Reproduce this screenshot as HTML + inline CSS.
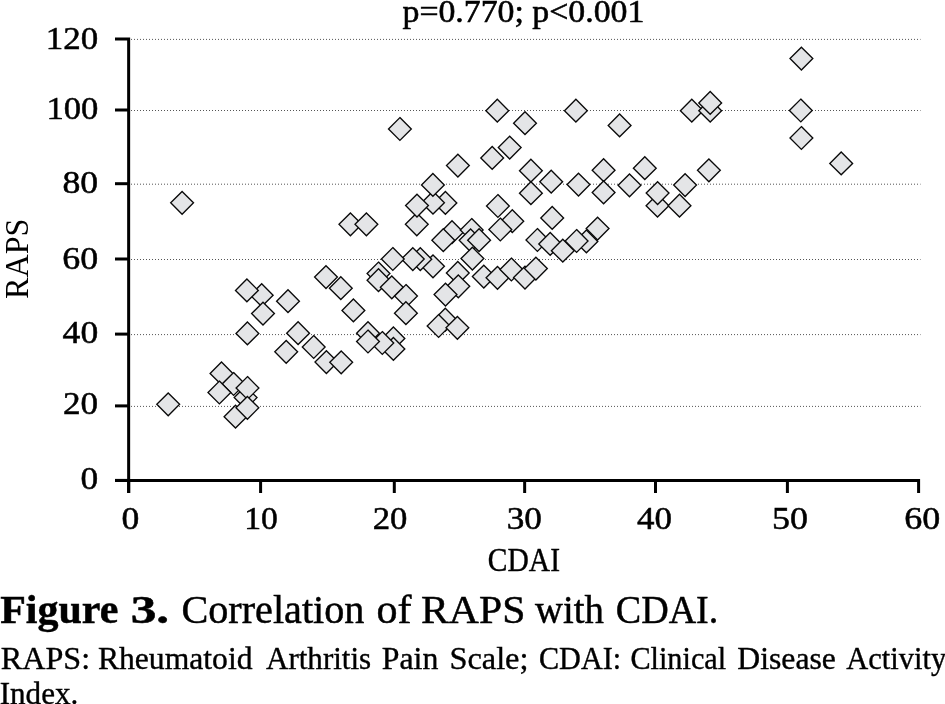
<!DOCTYPE html><html><head><meta charset="utf-8"><style>html,body{margin:0;padding:0;background:#fff;overflow:hidden;}svg{display:block;will-change:transform;}text{font-family:"Liberation Serif",serif;fill:#000;}</style></head><body>
<svg width="945" height="704" viewBox="0 0 945 704">
<line x1="131" y1="39.4" x2="920.5" y2="39.4" stroke="#555" stroke-width="1" stroke-dasharray="1 2"/>
<line x1="131" y1="110.5" x2="920.5" y2="110.5" stroke="#555" stroke-width="1" stroke-dasharray="1 2"/>
<line x1="131" y1="184.2" x2="920.5" y2="184.2" stroke="#555" stroke-width="1" stroke-dasharray="1 2"/>
<line x1="131" y1="259.5" x2="920.5" y2="259.5" stroke="#555" stroke-width="1" stroke-dasharray="1 2"/>
<line x1="131" y1="334.6" x2="920.5" y2="334.6" stroke="#555" stroke-width="1" stroke-dasharray="1 2"/>
<line x1="131" y1="406.4" x2="920.5" y2="406.4" stroke="#555" stroke-width="1" stroke-dasharray="1 2"/>
<path d="M168.2 392.9L179.6 404.3L168.2 415.7L156.8 404.3Z" fill="#e4e5e7" stroke="#0a0a0a" stroke-width="1.35"/>
<path d="M182.1 191.4L193.5 202.8L182.1 214.2L170.7 202.8Z" fill="#e4e5e7" stroke="#0a0a0a" stroke-width="1.35"/>
<path d="M221.5 362.0L232.9 373.4L221.5 384.8L210.1 373.4Z" fill="#e4e5e7" stroke="#0a0a0a" stroke-width="1.35"/>
<path d="M233.6 372.6L245.0 384.0L233.6 395.4L222.2 384.0Z" fill="#e4e5e7" stroke="#0a0a0a" stroke-width="1.35"/>
<path d="M219.4 381.1L230.8 392.5L219.4 403.9L208.0 392.5Z" fill="#e4e5e7" stroke="#0a0a0a" stroke-width="1.35"/>
<path d="M245.6 386.2L257.0 397.6L245.6 409.0L234.2 397.6Z" fill="#e4e5e7" stroke="#0a0a0a" stroke-width="1.35"/>
<path d="M247.5 376.6L258.9 388.0L247.5 399.4L236.1 388.0Z" fill="#e4e5e7" stroke="#0a0a0a" stroke-width="1.35"/>
<path d="M235.5 405.3L246.9 416.7L235.5 428.1L224.1 416.7Z" fill="#e4e5e7" stroke="#0a0a0a" stroke-width="1.35"/>
<path d="M247.4 396.4L258.8 407.8L247.4 419.2L236.0 407.8Z" fill="#e4e5e7" stroke="#0a0a0a" stroke-width="1.35"/>
<path d="M261.7 283.8L273.1 295.2L261.7 306.6L250.3 295.2Z" fill="#e4e5e7" stroke="#0a0a0a" stroke-width="1.35"/>
<path d="M246.9 279.0L258.3 290.4L246.9 301.8L235.5 290.4Z" fill="#e4e5e7" stroke="#0a0a0a" stroke-width="1.35"/>
<path d="M263.0 302.2L274.4 313.6L263.0 325.0L251.6 313.6Z" fill="#e4e5e7" stroke="#0a0a0a" stroke-width="1.35"/>
<path d="M288.0 289.8L299.4 301.2L288.0 312.6L276.6 301.2Z" fill="#e4e5e7" stroke="#0a0a0a" stroke-width="1.35"/>
<path d="M247.4 322.0L258.8 333.4L247.4 344.8L236.0 333.4Z" fill="#e4e5e7" stroke="#0a0a0a" stroke-width="1.35"/>
<path d="M298.1 321.8L309.5 333.2L298.1 344.6L286.7 333.2Z" fill="#e4e5e7" stroke="#0a0a0a" stroke-width="1.35"/>
<path d="M286.2 340.4L297.6 351.8L286.2 363.2L274.8 351.8Z" fill="#e4e5e7" stroke="#0a0a0a" stroke-width="1.35"/>
<path d="M313.7 335.6L325.1 347.0L313.7 358.4L302.3 347.0Z" fill="#e4e5e7" stroke="#0a0a0a" stroke-width="1.35"/>
<path d="M326.4 350.7L337.8 362.1L326.4 373.5L315.0 362.1Z" fill="#e4e5e7" stroke="#0a0a0a" stroke-width="1.35"/>
<path d="M341.2 350.9L352.6 362.3L341.2 373.7L329.8 362.3Z" fill="#e4e5e7" stroke="#0a0a0a" stroke-width="1.35"/>
<path d="M326.0 265.7L337.4 277.1L326.0 288.5L314.6 277.1Z" fill="#e4e5e7" stroke="#0a0a0a" stroke-width="1.35"/>
<path d="M340.8 276.8L352.2 288.2L340.8 299.6L329.4 288.2Z" fill="#e4e5e7" stroke="#0a0a0a" stroke-width="1.35"/>
<path d="M353.4 299.0L364.8 310.4L353.4 321.8L342.0 310.4Z" fill="#e4e5e7" stroke="#0a0a0a" stroke-width="1.35"/>
<path d="M350.4 212.9L361.8 224.3L350.4 235.7L339.0 224.3Z" fill="#e4e5e7" stroke="#0a0a0a" stroke-width="1.35"/>
<path d="M366.4 212.9L377.8 224.3L366.4 235.7L355.0 224.3Z" fill="#e4e5e7" stroke="#0a0a0a" stroke-width="1.35"/>
<path d="M433.0 254.9L444.4 266.3L433.0 277.7L421.6 266.3Z" fill="#e4e5e7" stroke="#0a0a0a" stroke-width="1.35"/>
<path d="M420.3 247.8L431.7 259.2L420.3 270.6L408.9 259.2Z" fill="#e4e5e7" stroke="#0a0a0a" stroke-width="1.35"/>
<path d="M412.8 247.7L424.2 259.1L412.8 270.5L401.4 259.1Z" fill="#e4e5e7" stroke="#0a0a0a" stroke-width="1.35"/>
<path d="M392.8 247.6L404.2 259.0L392.8 270.4L381.4 259.0Z" fill="#e4e5e7" stroke="#0a0a0a" stroke-width="1.35"/>
<path d="M378.5 262.1L389.9 273.5L378.5 284.9L367.1 273.5Z" fill="#e4e5e7" stroke="#0a0a0a" stroke-width="1.35"/>
<path d="M378.5 268.8L389.9 280.2L378.5 291.6L367.1 280.2Z" fill="#e4e5e7" stroke="#0a0a0a" stroke-width="1.35"/>
<path d="M391.8 275.9L403.2 287.3L391.8 298.7L380.4 287.3Z" fill="#e4e5e7" stroke="#0a0a0a" stroke-width="1.35"/>
<path d="M406.0 284.6L417.4 296.0L406.0 307.4L394.6 296.0Z" fill="#e4e5e7" stroke="#0a0a0a" stroke-width="1.35"/>
<path d="M405.9 301.8L417.3 313.2L405.9 324.6L394.5 313.2Z" fill="#e4e5e7" stroke="#0a0a0a" stroke-width="1.35"/>
<path d="M368.0 321.8L379.4 333.2L368.0 344.6L356.6 333.2Z" fill="#e4e5e7" stroke="#0a0a0a" stroke-width="1.35"/>
<path d="M393.4 327.0L404.8 338.4L393.4 349.8L382.0 338.4Z" fill="#e4e5e7" stroke="#0a0a0a" stroke-width="1.35"/>
<path d="M393.4 337.5L404.8 348.9L393.4 360.3L382.0 348.9Z" fill="#e4e5e7" stroke="#0a0a0a" stroke-width="1.35"/>
<path d="M382.3 331.6L393.7 343.0L382.3 354.4L370.9 343.0Z" fill="#e4e5e7" stroke="#0a0a0a" stroke-width="1.35"/>
<path d="M368.0 330.1L379.4 341.5L368.0 352.9L356.6 341.5Z" fill="#e4e5e7" stroke="#0a0a0a" stroke-width="1.35"/>
<path d="M399.9 117.6L411.3 129.0L399.9 140.4L388.5 129.0Z" fill="#e4e5e7" stroke="#0a0a0a" stroke-width="1.35"/>
<path d="M445.4 191.5L456.8 202.9L445.4 214.3L434.0 202.9Z" fill="#e4e5e7" stroke="#0a0a0a" stroke-width="1.35"/>
<path d="M433.0 191.3L444.4 202.7L433.0 214.1L421.6 202.7Z" fill="#e4e5e7" stroke="#0a0a0a" stroke-width="1.35"/>
<path d="M416.8 212.9L428.2 224.3L416.8 235.7L405.4 224.3Z" fill="#e4e5e7" stroke="#0a0a0a" stroke-width="1.35"/>
<path d="M417.0 194.2L428.4 205.6L417.0 217.0L405.6 205.6Z" fill="#e4e5e7" stroke="#0a0a0a" stroke-width="1.35"/>
<path d="M432.9 173.5L444.3 184.9L432.9 196.3L421.5 184.9Z" fill="#e4e5e7" stroke="#0a0a0a" stroke-width="1.35"/>
<path d="M457.9 154.2L469.3 165.6L457.9 177.0L446.5 165.6Z" fill="#e4e5e7" stroke="#0a0a0a" stroke-width="1.35"/>
<path d="M492.2 146.5L503.6 157.9L492.2 169.3L480.8 157.9Z" fill="#e4e5e7" stroke="#0a0a0a" stroke-width="1.35"/>
<path d="M497.3 99.3L508.7 110.7L497.3 122.1L485.9 110.7Z" fill="#e4e5e7" stroke="#0a0a0a" stroke-width="1.35"/>
<path d="M452.0 220.8L463.4 232.2L452.0 243.6L440.6 232.2Z" fill="#e4e5e7" stroke="#0a0a0a" stroke-width="1.35"/>
<path d="M443.3 228.8L454.7 240.2L443.3 251.6L431.9 240.2Z" fill="#e4e5e7" stroke="#0a0a0a" stroke-width="1.35"/>
<path d="M471.7 218.6L483.1 230.0L471.7 241.4L460.3 230.0Z" fill="#e4e5e7" stroke="#0a0a0a" stroke-width="1.35"/>
<path d="M470.6 228.9L482.0 240.3L470.6 251.7L459.2 240.3Z" fill="#e4e5e7" stroke="#0a0a0a" stroke-width="1.35"/>
<path d="M479.1 228.8L490.5 240.2L479.1 251.6L467.7 240.2Z" fill="#e4e5e7" stroke="#0a0a0a" stroke-width="1.35"/>
<path d="M472.4 247.2L483.8 258.6L472.4 270.0L461.0 258.6Z" fill="#e4e5e7" stroke="#0a0a0a" stroke-width="1.35"/>
<path d="M457.8 261.5L469.2 272.9L457.8 284.3L446.4 272.9Z" fill="#e4e5e7" stroke="#0a0a0a" stroke-width="1.35"/>
<path d="M458.3 274.9L469.7 286.3L458.3 297.7L446.9 286.3Z" fill="#e4e5e7" stroke="#0a0a0a" stroke-width="1.35"/>
<path d="M445.5 283.2L456.9 294.6L445.5 306.0L434.1 294.6Z" fill="#e4e5e7" stroke="#0a0a0a" stroke-width="1.35"/>
<path d="M445.3 308.3L456.7 319.7L445.3 331.1L433.9 319.7Z" fill="#e4e5e7" stroke="#0a0a0a" stroke-width="1.35"/>
<path d="M438.6 314.6L450.0 326.0L438.6 337.4L427.2 326.0Z" fill="#e4e5e7" stroke="#0a0a0a" stroke-width="1.35"/>
<path d="M457.4 316.4L468.8 327.8L457.4 339.2L446.0 327.8Z" fill="#e4e5e7" stroke="#0a0a0a" stroke-width="1.35"/>
<path d="M483.8 265.2L495.2 276.6L483.8 288.0L472.4 276.6Z" fill="#e4e5e7" stroke="#0a0a0a" stroke-width="1.35"/>
<path d="M497.5 266.4L508.9 277.8L497.5 289.2L486.1 277.8Z" fill="#e4e5e7" stroke="#0a0a0a" stroke-width="1.35"/>
<path d="M511.4 258.1L522.8 269.5L511.4 280.9L500.0 269.5Z" fill="#e4e5e7" stroke="#0a0a0a" stroke-width="1.35"/>
<path d="M525.0 266.2L536.4 277.6L525.0 289.0L513.6 277.6Z" fill="#e4e5e7" stroke="#0a0a0a" stroke-width="1.35"/>
<path d="M535.9 257.2L547.3 268.6L535.9 280.0L524.5 268.6Z" fill="#e4e5e7" stroke="#0a0a0a" stroke-width="1.35"/>
<path d="M497.9 194.6L509.3 206.0L497.9 217.4L486.5 206.0Z" fill="#e4e5e7" stroke="#0a0a0a" stroke-width="1.35"/>
<path d="M512.3 209.8L523.7 221.2L512.3 232.6L500.9 221.2Z" fill="#e4e5e7" stroke="#0a0a0a" stroke-width="1.35"/>
<path d="M500.3 218.1L511.7 229.5L500.3 240.9L488.9 229.5Z" fill="#e4e5e7" stroke="#0a0a0a" stroke-width="1.35"/>
<path d="M509.7 136.2L521.1 147.6L509.7 159.0L498.3 147.6Z" fill="#e4e5e7" stroke="#0a0a0a" stroke-width="1.35"/>
<path d="M525.0 111.8L536.4 123.2L525.0 134.6L513.6 123.2Z" fill="#e4e5e7" stroke="#0a0a0a" stroke-width="1.35"/>
<path d="M530.9 159.3L542.3 170.7L530.9 182.1L519.5 170.7Z" fill="#e4e5e7" stroke="#0a0a0a" stroke-width="1.35"/>
<path d="M551.2 170.3L562.6 181.7L551.2 193.1L539.8 181.7Z" fill="#e4e5e7" stroke="#0a0a0a" stroke-width="1.35"/>
<path d="M530.9 181.8L542.3 193.2L530.9 204.6L519.5 193.2Z" fill="#e4e5e7" stroke="#0a0a0a" stroke-width="1.35"/>
<path d="M552.2 206.5L563.6 217.9L552.2 229.3L540.8 217.9Z" fill="#e4e5e7" stroke="#0a0a0a" stroke-width="1.35"/>
<path d="M578.5 173.2L589.9 184.6L578.5 196.0L567.1 184.6Z" fill="#e4e5e7" stroke="#0a0a0a" stroke-width="1.35"/>
<path d="M537.4 228.6L548.8 240.0L537.4 251.4L526.0 240.0Z" fill="#e4e5e7" stroke="#0a0a0a" stroke-width="1.35"/>
<path d="M550.2 232.5L561.6 243.9L550.2 255.3L538.8 243.9Z" fill="#e4e5e7" stroke="#0a0a0a" stroke-width="1.35"/>
<path d="M562.8 239.3L574.2 250.7L562.8 262.1L551.4 250.7Z" fill="#e4e5e7" stroke="#0a0a0a" stroke-width="1.35"/>
<path d="M586.4 230.0L597.8 241.4L586.4 252.8L575.0 241.4Z" fill="#e4e5e7" stroke="#0a0a0a" stroke-width="1.35"/>
<path d="M576.6 229.6L588.0 241.0L576.6 252.4L565.2 241.0Z" fill="#e4e5e7" stroke="#0a0a0a" stroke-width="1.35"/>
<path d="M597.6 217.2L609.0 228.6L597.6 240.0L586.2 228.6Z" fill="#e4e5e7" stroke="#0a0a0a" stroke-width="1.35"/>
<path d="M575.9 99.3L587.3 110.7L575.9 122.1L564.5 110.7Z" fill="#e4e5e7" stroke="#0a0a0a" stroke-width="1.35"/>
<path d="M619.6 114.0L631.0 125.4L619.6 136.8L608.2 125.4Z" fill="#e4e5e7" stroke="#0a0a0a" stroke-width="1.35"/>
<path d="M603.6 158.8L615.0 170.2L603.6 181.6L592.2 170.2Z" fill="#e4e5e7" stroke="#0a0a0a" stroke-width="1.35"/>
<path d="M603.6 181.0L615.0 192.4L603.6 203.8L592.2 192.4Z" fill="#e4e5e7" stroke="#0a0a0a" stroke-width="1.35"/>
<path d="M629.5 173.9L640.9 185.3L629.5 196.7L618.1 185.3Z" fill="#e4e5e7" stroke="#0a0a0a" stroke-width="1.35"/>
<path d="M644.8 156.8L656.2 168.2L644.8 179.6L633.4 168.2Z" fill="#e4e5e7" stroke="#0a0a0a" stroke-width="1.35"/>
<path d="M657.5 194.3L668.9 205.7L657.5 217.1L646.1 205.7Z" fill="#e4e5e7" stroke="#0a0a0a" stroke-width="1.35"/>
<path d="M657.6 181.7L669.0 193.1L657.6 204.5L646.2 193.1Z" fill="#e4e5e7" stroke="#0a0a0a" stroke-width="1.35"/>
<path d="M679.5 194.3L690.9 205.7L679.5 217.1L668.1 205.7Z" fill="#e4e5e7" stroke="#0a0a0a" stroke-width="1.35"/>
<path d="M685.1 173.7L696.5 185.1L685.1 196.5L673.7 185.1Z" fill="#e4e5e7" stroke="#0a0a0a" stroke-width="1.35"/>
<path d="M708.9 158.9L720.3 170.3L708.9 181.7L697.5 170.3Z" fill="#e4e5e7" stroke="#0a0a0a" stroke-width="1.35"/>
<path d="M691.8 99.3L703.2 110.7L691.8 122.1L680.4 110.7Z" fill="#e4e5e7" stroke="#0a0a0a" stroke-width="1.35"/>
<path d="M710.2 99.3L721.6 110.7L710.2 122.1L698.8 110.7Z" fill="#e4e5e7" stroke="#0a0a0a" stroke-width="1.35"/>
<path d="M710.2 91.5L721.6 102.9L710.2 114.3L698.8 102.9Z" fill="#e4e5e7" stroke="#0a0a0a" stroke-width="1.35"/>
<path d="M801.4 47.2L812.8 58.6L801.4 70.0L790.0 58.6Z" fill="#e4e5e7" stroke="#0a0a0a" stroke-width="1.35"/>
<path d="M800.8 99.1L812.2 110.5L800.8 121.9L789.4 110.5Z" fill="#e4e5e7" stroke="#0a0a0a" stroke-width="1.35"/>
<path d="M801.4 126.6L812.8 138.0L801.4 149.4L790.0 138.0Z" fill="#e4e5e7" stroke="#0a0a0a" stroke-width="1.35"/>
<path d="M841.2 152.0L852.6 163.4L841.2 174.8L829.8 163.4Z" fill="#e4e5e7" stroke="#0a0a0a" stroke-width="1.35"/>
<g stroke="#000" stroke-width="3" fill="none">
<path d="M115 38.9 H128.65 V493"/>
<line x1="115" y1="110.0" x2="128.65" y2="110.0"/>
<line x1="115" y1="183.7" x2="128.65" y2="183.7"/>
<line x1="115" y1="259.0" x2="128.65" y2="259.0"/>
<line x1="115" y1="334.1" x2="128.65" y2="334.1"/>
<line x1="115" y1="405.9" x2="128.65" y2="405.9"/>
<line x1="115" y1="480.4" x2="128.65" y2="480.4"/>
<path d="M115 480.4 H918.6 V493"/>
<line x1="128.7" y1="480.4" x2="128.7" y2="493"/>
<line x1="260.6" y1="480.4" x2="260.6" y2="493"/>
<line x1="394.3" y1="480.4" x2="394.3" y2="493"/>
<line x1="524.65" y1="480.4" x2="524.65" y2="493"/>
<line x1="655.5" y1="480.4" x2="655.5" y2="493"/>
<line x1="787.4" y1="480.4" x2="787.4" y2="493"/>
</g>
<text font-size="100" transform="matrix(0.34947 0 0 0.32263 45.77 48.57)" stroke="#000" stroke-width="1.6">120</text>
<text font-size="100" transform="matrix(0.34655 0 0 0.32263 46.39 119.47)" stroke="#000" stroke-width="1.6">100</text>
<text font-size="100" transform="matrix(0.35737 0 0 0.32115 62.48 193.37)" stroke="#000" stroke-width="1.6">80</text>
<text font-size="100" transform="matrix(0.35932 0 0 0.32263 62.29 269.47)" stroke="#000" stroke-width="1.6">60</text>
<text font-size="100" transform="matrix(0.35614 0 0 0.32115 62.60 343.37)" stroke="#000" stroke-width="1.6">40</text>
<text font-size="100" transform="matrix(0.35167 0 0 0.31967 63.03 414.27)" stroke="#000" stroke-width="1.6">20</text>
<text font-size="100" transform="matrix(0.35423 0 0 0.31967 80.49 489.47)" stroke="#000" stroke-width="1.6">0</text>
<text font-size="100" transform="matrix(0.35661 0 0 0.31967 121.38 529.47)" stroke="#000" stroke-width="1.6">0</text>
<text font-size="100" transform="matrix(0.33652 0 0 0.31967 244.28 529.47)" stroke="#000" stroke-width="1.6">10</text>
<text font-size="100" transform="matrix(0.34730 0 0 0.31967 372.65 529.47)" stroke="#000" stroke-width="1.6">20</text>
<text font-size="100" transform="matrix(0.35250 0 0 0.31967 506.65 529.47)" stroke="#000" stroke-width="1.6">30</text>
<text font-size="100" transform="matrix(0.34976 0 0 0.31967 636.91 529.47)" stroke="#000" stroke-width="1.6">40</text>
<text font-size="100" transform="matrix(0.35975 0 0 0.31967 772.05 529.47)" stroke="#000" stroke-width="1.6">50</text>
<text font-size="100" transform="matrix(0.36041 0 0 0.31967 904.19 529.47)" stroke="#000" stroke-width="1.6">60</text>
<text font-size="100" transform="matrix(0.29536 0 0 0.32800 487.82 571.00)" stroke="#000" stroke-width="1.2">CDAI</text>
<g transform="translate(28.4 298) rotate(-90)"><text font-size="100" transform="matrix(0.32116 0 0 0.33000 -0.96 0)">RAPS</text></g>
<text font-size="100" transform="matrix(0.33814 0 0 0.32600 402.49 21.90)" stroke="#000" stroke-width="1.8">p=0.770; p&lt;0.001</text>
<text font-size="100" font-weight="bold" transform="matrix(0.42018 0 0 0.41000 0.17 622.90)" stroke="#000" stroke-width="1.2">Figure</text>
<text font-size="100" font-weight="bold" transform="matrix(0.51429 0 0 0.41000 130.64 622.90)" stroke="#000" stroke-width="1.2">3.</text>
<text font-size="100" transform="matrix(0.40200 0 0 0.40000 181.39 623.00)" stroke="#000" stroke-width="1.2">Correlation</text>
<text font-size="100" transform="matrix(0.42013 0 0 0.40000 376.42 623.00)" stroke="#000" stroke-width="1.2">of</text>
<text font-size="100" transform="matrix(0.41701 0 0 0.40000 421.05 623.00)" stroke="#000" stroke-width="1.2">RAPS</text>
<text font-size="100" transform="matrix(0.38754 0 0 0.40000 534.90 623.00)" stroke="#000" stroke-width="1.2">with</text>
<text font-size="100" transform="matrix(0.38069 0 0 0.40000 615.78 623.00)" stroke="#000" stroke-width="1.2">CDAI.</text>
<text font-size="100" transform="matrix(0.32158 0 0 0.32400 0.74 668.60)" stroke="#000" stroke-width="1.2">RAPS:</text>
<text font-size="100" transform="matrix(0.31629 0 0 0.32400 97.95 668.60)" stroke="#000" stroke-width="1.2">Rheumatoid</text>
<text font-size="100" transform="matrix(0.31061 0 0 0.32400 265.99 668.60)" stroke="#000" stroke-width="1.2">Arthritis</text>
<text font-size="100" transform="matrix(0.31816 0 0 0.32400 381.75 668.60)" stroke="#000" stroke-width="1.2">Pain</text>
<text font-size="100" transform="matrix(0.32391 0 0 0.32400 449.39 668.60)" stroke="#000" stroke-width="1.2">Scale;</text>
<text font-size="100" transform="matrix(0.30192 0 0 0.32400 538.99 668.60)" stroke="#000" stroke-width="1.2">CDAI:</text>
<text font-size="100" transform="matrix(0.30257 0 0 0.32400 630.39 668.60)" stroke="#000" stroke-width="1.2">Clinical</text>
<text font-size="100" transform="matrix(0.31691 0 0 0.32400 737.35 668.60)" stroke="#000" stroke-width="1.2">Disease</text>
<text font-size="100" transform="matrix(0.30491 0 0 0.32400 846.30 668.60)" stroke="#000" stroke-width="1.2">Activity</text>
<text font-size="100" transform="matrix(0.31093 0 0 0.32400 -0.29 704.30)" stroke="#000" stroke-width="1.2">Index.</text>
</svg></body></html>
